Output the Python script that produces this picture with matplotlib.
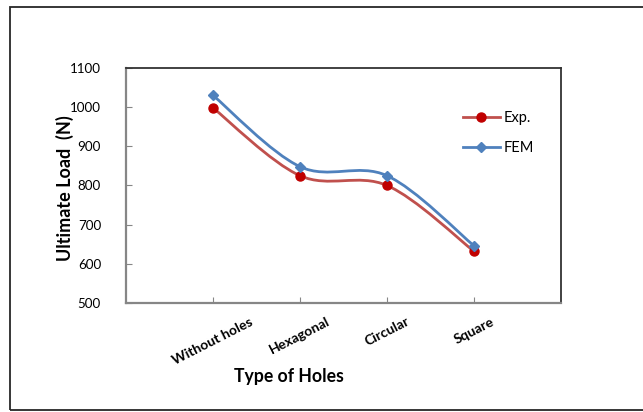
import matplotlib.pyplot as plt
from matplotlib.path import Path
from matplotlib.patches import PathPatch, Rectangle
from matplotlib.lines import Line2D

plt.rcParams['font.family'] = ['Lato', 'DejaVu Sans']

hole_types = ['Without holes', 'Hexagonal', 'Circular', 'Square']
exp_load = [998, 825, 800, 632]
fem_load = [1030, 848, 825, 646]
y_ticks = [500, 600, 700, 800, 900, 1000, 1100]


def smooth_path(xs, ys):
    # Catmull-Rom style bezier through the points, like a spreadsheet "smoothed line"
    pts = list(zip(xs, ys))
    verts = [pts[0]]
    codes = [Path.MOVETO]
    n = len(pts)
    for i in range(n - 1):
        p0 = pts[i - 1] if i > 0 else pts[i]
        p1 = pts[i]
        p2 = pts[i + 1]
        p3 = pts[i + 2] if i + 2 < n else pts[i + 1]
        c1 = (p1[0] + (p2[0] - p0[0]) / 6, p1[1] + (p2[1] - p0[1]) / 6)
        c2 = (p2[0] - (p3[0] - p1[0]) / 6, p2[1] - (p3[1] - p1[1]) / 6)
        verts += [c1, c2, p2]
        codes += [Path.CURVE4] * 3
    return Path(verts, codes)


fig = plt.figure(figsize=(6.43, 4.12), dpi=100)
ax = fig.add_axes([0.196, 0.2646, 0.6765, 0.5704])

# outer chart border (right edge runs off the canvas)
fig.patches.append(Rectangle((10 / 643, 2 / 412), 1.0, 403.5 / 412, transform=fig.transFigure,
                             fill=False, edgecolor='#262626', linewidth=1.3, clip_on=False))

x = [1, 2, 3, 4]
series = [
    ('Exp.', exp_load, '#C0504D', '#C00000', 'o', 6.5),
    ('FEM', fem_load, '#4F81BD', '#4F81BD', 'D', 4.8),
]
handles = []
for label, vals, lc, mc, mk, ms in series:
    ax.add_patch(PathPatch(smooth_path(x, vals), fill=False, edgecolor=lc, linewidth=2.0))
    ax.plot(x, vals, linestyle='none', marker=mk, markersize=ms, color=mc, zorder=3)
    handles.append(Line2D([], [], color=lc, linewidth=2.0, marker=mk, markersize=ms,
                          markerfacecolor=mc, markeredgecolor=mc, label=label))

ax.set_xlim(0, 5)
ax.set_ylim(500, 1100)
ax.set_yticks(y_ticks)
ax.set_xticks(x)
ax.set_xticklabels(hole_types, rotation=27, ha='center', fontweight='bold', fontsize=10)
ax.tick_params(axis='y', direction='in', length=4, color='#868686', labelsize=9.6, pad=18)
ax.tick_params(axis='x', direction='in', length=4, color='#868686', pad=9)

for s in ('left', 'bottom'):
    ax.spines[s].set_color('#868686')
    ax.spines[s].set_linewidth(1.6)
for s in ('top', 'right'):
    ax.spines[s].set_color('#333333')
    ax.spines[s].set_linewidth(1.3)

ax.set_ylabel('Ultimate Load  (N)', fontweight='bold', fontsize=13)
ax.yaxis.set_label_coords(-0.12, 0.49)
ax.set_xlabel('Type of Holes', fontweight='bold', fontsize=12.7)
ax.xaxis.set_label_coords(0.375, -0.275)

ax.legend(handles=handles, loc='upper left', bbox_to_anchor=(0.775, 0.815), frameon=False,
          fontsize=10.5, handlelength=2.5, handletextpad=0.3, labelspacing=1.05,
          borderpad=0, borderaxespad=0)

fig.savefig('out.png', dpi=100)
